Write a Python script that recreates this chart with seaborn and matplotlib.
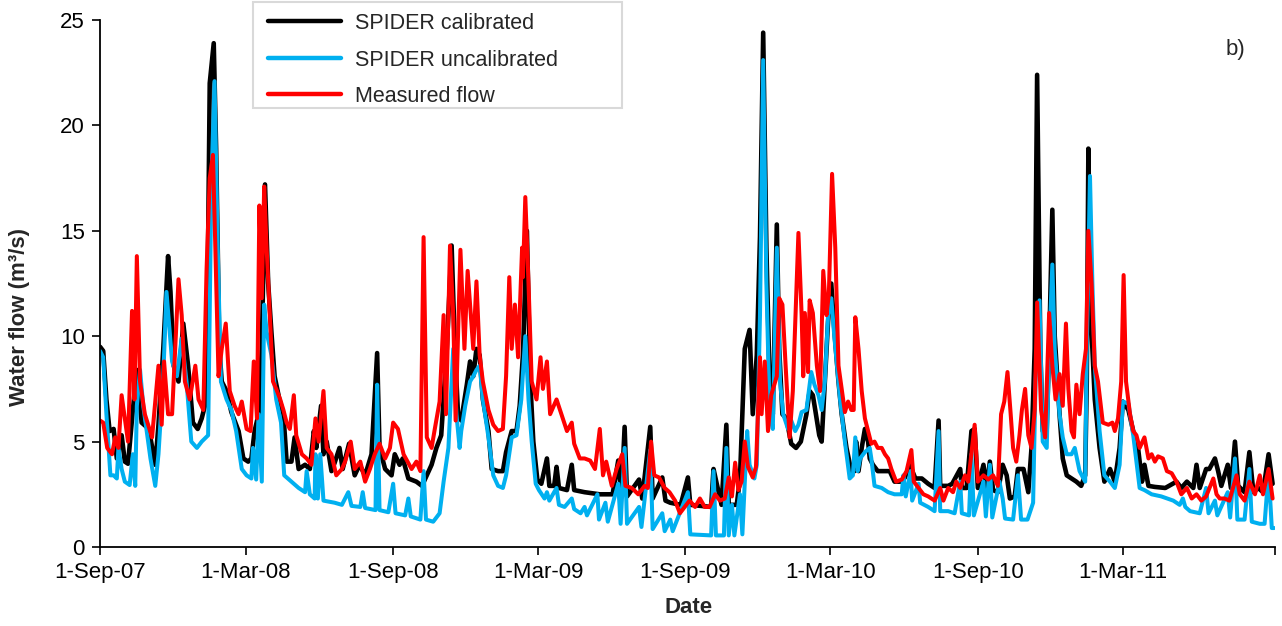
import numpy as np
import pandas as pd
import matplotlib
matplotlib.use("Agg")
import matplotlib.pyplot as plt
from matplotlib.lines import Line2D
from matplotlib.patches import Rectangle
import seaborn as sns

# ---------------- data (day offset from start_date, flow m3/s) ----------------
start_date = "2007-09-01"

calibrated = [
    (0, 9.5), (4, 9.3), (8, 7.0), (12, 5.5), (17, 5.6), (21, 4.2), (27, 5.3), (31, 4.05), (35, 3.95),
    (41, 6.5), (46, 8.4), (52, 5.9), (61, 5.6), (69, 3.9), (73, 5.8), (79, 9.4), (85, 13.8), (88, 12.1),
    (92, 8.6), (98, 7.85), (104, 10.6), (110, 8.6), (116, 5.9), (122, 5.6), (127, 6.1), (133, 7.0),
    (137, 22.0), (142, 23.9), (145, 18.9), (149, 9.4), (152, 7.85), (158, 7.4), (164, 6.4), (173, 5.5),
    (179, 4.2), (185, 4.05), (189, 4.2), (193, 5.5), (198, 6.3), (202, 9.4), (206, 17.2), (210, 12.5),
    (214, 10.2), (218, 8.1), (224, 7.0), (229, 6.3), (233, 4.05), (239, 4.05), (243, 5.2), (248, 3.7),
    (256, 3.9), (262, 3.7), (267, 5.5), (270, 4.7), (276, 6.7), (279, 4.4), (283, 5.0), (289, 3.6),
    (293, 4.0), (299, 4.7), (303, 3.7), (311, 4.9), (318, 3.4), (324, 3.9), (331, 3.4), (339, 4.4),
    (346, 9.2), (349, 4.7), (356, 3.7), (364, 3.4), (368, 4.4), (374, 3.9), (378, 4.2), (385, 3.25),
    (395, 3.1), (402, 2.9), (408, 3.4), (414, 3.9), (420, 4.7), (426, 5.3), (433, 9.4), (439, 14.3),
    (443, 9.5), (447, 6.3), (451, 6.0), (458, 7.7), (462, 8.8), (466, 8.1), (470, 9.4), (474, 9.1),
    (478, 7.0), (485, 5.5), (489, 3.7), (497, 3.6), (503, 3.6), (507, 4.5), (514, 5.5), (520, 5.5),
    (524, 6.7), (528, 9.1), (533, 15.0), (537, 8.0), (541, 5.0), (546, 3.2), (551, 3.0), (558, 4.2),
    (561, 2.9), (567, 2.9), (570, 3.8), (573, 2.8), (583, 2.7), (589, 3.9), (592, 2.7), (605, 2.6),
    (624, 2.5), (640, 2.5), (647, 4.1), (651, 2.4), (655, 5.7), (658, 2.4), (673, 3.2), (677, 2.3),
    (687, 5.7), (690, 2.3), (702, 3.3), (706, 2.2), (712, 2.1), (725, 2.0), (734, 3.3), (737, 2.0),
    (763, 1.9), (766, 3.7), (770, 3.0), (776, 2.0), (782, 5.8), (785, 2.0), (795, 2.0), (799, 3.25),
    (805, 9.4), (811, 10.3), (815, 6.3), (820, 9.1), (824, 14.7), (828, 24.4), (832, 14.2), (836, 7.85),
    (840, 6.3), (845, 15.3), (848, 9.4), (852, 6.3), (857, 6.1), (863, 4.9), (869, 4.7), (875, 5.0),
    (882, 6.3), (886, 7.4), (890, 7.2), (893, 6.5), (898, 5.3), (901, 5.0), (905, 7.85), (909, 10.7),
    (913, 12.5), (917, 10.2), (922, 7.85), (926, 6.3), (932, 4.7), (938, 3.6), (942, 3.6), (944, 5.0),
    (947, 3.6), (951, 4.7), (955, 5.6), (959, 5.0), (961, 4.2), (965, 3.9), (971, 3.6), (980, 3.6),
    (986, 3.6), (992, 3.1), (1000, 3.1), (1005, 3.3), (1011, 3.9), (1018, 3.25), (1026, 3.25),
    (1034, 3.0), (1042, 2.8), (1047, 6.0), (1049, 2.9), (1059, 2.9), (1064, 3.0), (1074, 3.7),
    (1076, 2.8), (1082, 2.8), (1088, 5.5), (1092, 5.6), (1096, 2.8), (1103, 3.9), (1107, 2.8),
    (1111, 4.05), (1115, 2.7), (1121, 2.6), (1127, 3.9), (1132, 3.4), (1136, 2.3), (1142, 2.4),
    (1146, 3.7), (1153, 3.7), (1159, 2.6), (1163, 4.7), (1167, 9.4), (1170, 22.4), (1174, 9.4),
    (1177, 5.5), (1182, 5.6), (1185, 9.4), (1189, 16.0), (1192, 10.0), (1198, 6.3), (1202, 4.2),
    (1207, 3.4), (1213, 3.25), (1219, 3.1), (1225, 2.9), (1230, 3.4), (1232, 7.85), (1234, 18.9),
    (1237, 11.0), (1242, 7.0), (1248, 4.7), (1254, 3.1), (1261, 3.7), (1267, 3.1), (1273, 4.7),
    (1277, 6.9), (1284, 6.5), (1290, 5.5), (1296, 4.7), (1301, 3.1), (1304, 3.9), (1309, 2.9),
    (1317, 2.85), (1330, 2.8), (1344, 3.1), (1350, 2.8), (1357, 3.1), (1365, 2.8), (1369, 3.9),
    (1373, 2.8), (1381, 3.7), (1385, 3.7), (1392, 4.2), (1396, 3.6), (1400, 2.9), (1408, 3.9),
    (1412, 2.8), (1417, 5.0), (1421, 2.9), (1429, 2.6), (1435, 4.5), (1440, 2.6), (1446, 2.8),
    (1452, 2.6), (1459, 4.4), (1464, 3.0),
]

uncalibrated = [
    (0, 9.3), (4, 9.0), (8, 6.3), (13, 3.4), (17, 3.4), (21, 3.25), (23, 4.7), (27, 3.7), (31, 3.1),
    (37, 2.94), (41, 4.4), (44, 2.9), (46, 6.7), (50, 8.4), (54, 6.7), (63, 4.2), (69, 2.9), (73, 4.4),
    (79, 8.1), (83, 12.1), (90, 8.8), (96, 8.1), (102, 9.9), (108, 7.85), (114, 5.0), (121, 4.7),
    (127, 5.0), (135, 5.3), (139, 17.2), (143, 22.1), (147, 14.2), (151, 7.85), (158, 7.0), (164, 6.5),
    (170, 5.5), (177, 3.7), (183, 3.4), (189, 3.25), (191, 4.7), (195, 3.2), (198, 6.3), (202, 3.1),
    (205, 11.5), (208, 10.2), (214, 9.1), (220, 7.0), (226, 5.9), (230, 3.4), (239, 3.1), (248, 2.8),
    (256, 2.6), (258, 3.6), (262, 2.5), (268, 2.3), (269, 4.4), (272, 2.3), (275, 4.4), (279, 2.2),
    (293, 2.1), (302, 2.0), (310, 2.6), (314, 1.95), (325, 1.9), (328, 2.6), (331, 1.85), (344, 1.75),
    (346, 7.7), (349, 1.75), (360, 1.65), (366, 3.0), (369, 1.6), (381, 1.5), (385, 2.3), (388, 1.45),
    (400, 1.3), (404, 3.6), (407, 1.3), (416, 1.2), (424, 1.6), (429, 3.1), (435, 4.7), (441, 9.4),
    (445, 6.3), (449, 4.7), (451, 5.5), (456, 6.7), (462, 7.85), (466, 8.1), (470, 8.4), (474, 8.6),
    (478, 7.0), (485, 5.2), (491, 3.4), (497, 2.9), (503, 2.8), (507, 3.4), (514, 5.2), (520, 5.3),
    (526, 7.0), (531, 10.0), (535, 7.0), (539, 5.0), (544, 3.0), (548, 2.7), (555, 2.3), (558, 2.6),
    (561, 2.2), (570, 2.8), (573, 2.0), (580, 1.9), (589, 2.3), (592, 1.8), (600, 1.6), (605, 1.9),
    (608, 1.5), (621, 2.5), (623, 1.3), (631, 2.1), (634, 1.2), (647, 3.0), (650, 1.1), (655, 4.7),
    (658, 1.1), (673, 1.9), (676, 0.95), (687, 4.6), (690, 0.85), (702, 1.6), (705, 0.75), (712, 1.3),
    (715, 0.75), (734, 2.6), (737, 0.6), (763, 0.55), (766, 3.6), (769, 0.55), (779, 0.55), (782, 4.7),
    (785, 0.55), (789, 2.0), (792, 0.55), (799, 2.5), (802, 0.6), (806, 3.9), (808, 5.5), (811, 3.9),
    (817, 3.25), (820, 3.9), (824, 11.0), (828, 23.1), (832, 12.5), (836, 6.5), (840, 5.6), (845, 14.2),
    (849, 7.85), (853, 6.3), (859, 5.6), (863, 6.0), (868, 5.5), (872, 5.8), (876, 6.4), (882, 6.5),
    (888, 8.3), (892, 7.7), (897, 7.2), (901, 6.5), (905, 7.85), (909, 11.0), (913, 11.8), (917, 9.9),
    (924, 7.0), (930, 5.0), (936, 3.25), (940, 3.4), (943, 5.2), (946, 3.6), (949, 4.2), (955, 4.5),
    (961, 4.7), (963, 4.2), (967, 2.9), (976, 2.8), (984, 2.6), (992, 2.5), (1001, 2.5), (1003, 3.4),
    (1006, 2.4), (1012, 3.6), (1014, 2.2), (1022, 3.0), (1024, 2.1), (1034, 1.9), (1042, 1.7),
    (1047, 5.5), (1049, 1.7), (1059, 1.7), (1067, 1.6), (1074, 3.1), (1076, 1.6), (1085, 1.5),
    (1088, 4.4), (1091, 1.5), (1103, 3.1), (1106, 1.45), (1111, 3.9), (1114, 1.4), (1123, 3.1),
    (1127, 2.3), (1130, 1.35), (1140, 1.3), (1146, 3.4), (1150, 1.3), (1158, 1.3), (1165, 2.1),
    (1168, 7.85), (1173, 11.7), (1177, 5.0), (1182, 4.7), (1185, 9.4), (1189, 13.4), (1192, 9.4),
    (1198, 6.3), (1202, 5.2), (1207, 4.4), (1213, 4.4), (1217, 4.7), (1223, 3.6), (1230, 3.1),
    (1232, 9.4), (1236, 17.6), (1239, 12.5), (1242, 8.6), (1248, 5.5), (1254, 3.4), (1261, 3.1),
    (1267, 2.8), (1273, 3.9), (1277, 6.9), (1284, 6.8), (1290, 5.3), (1298, 2.8), (1304, 2.7),
    (1313, 2.5), (1325, 2.4), (1340, 2.2), (1348, 2.0), (1352, 2.3), (1355, 1.9), (1361, 1.7),
    (1373, 1.6), (1381, 2.8), (1384, 1.6), (1392, 2.2), (1395, 1.5), (1408, 2.6), (1411, 1.4),
    (1417, 4.2), (1420, 1.3), (1429, 1.3), (1435, 3.7), (1438, 1.2), (1448, 1.1), (1454, 1.1),
    (1459, 3.6), (1463, 0.9), (1466, 0.9),
]

measured = [
    (0, 6.0), (4, 5.9), (9, 4.7), (15, 4.4), (19, 5.2), (23, 4.7), (27, 7.2), (31, 6.1), (35, 5.0),
    (40, 11.2), (43, 7.0), (46, 13.8), (50, 7.85), (56, 6.3), (65, 5.2), (73, 8.6), (77, 5.8), (80, 8.8),
    (85, 6.3), (90, 6.3), (98, 12.7), (102, 11.0), (106, 7.85), (112, 7.0), (119, 8.6), (123, 7.0),
    (129, 6.5), (133, 13.1), (137, 17.5), (141, 18.6), (144, 14.2), (148, 8.1), (152, 9.4), (157, 10.6),
    (162, 7.4), (168, 6.7), (173, 6.3), (177, 6.9), (183, 5.6), (188, 5.5), (192, 8.8), (196, 6.1),
    (199, 16.2), (202, 11.8), (205, 17.1), (208, 14.2), (212, 11.0), (216, 7.85), (220, 7.5), (225, 7.0),
    (229, 6.5), (233, 5.9), (237, 5.6), (242, 7.2), (245, 5.3), (252, 4.4), (258, 4.2), (264, 3.9),
    (269, 6.1), (273, 5.0), (279, 7.4), (283, 4.7), (289, 4.4), (295, 3.4), (302, 3.7), (306, 4.05),
    (313, 5.0), (318, 3.7), (325, 4.05), (331, 3.1), (337, 3.7), (343, 4.4), (349, 4.9), (356, 4.2),
    (362, 4.7), (366, 5.9), (372, 5.6), (379, 4.4), (389, 3.7), (395, 4.05), (400, 3.6), (404, 14.7),
    (408, 5.2), (414, 4.7), (418, 5.6), (424, 6.9), (429, 11.0), (432, 6.3), (437, 14.3), (441, 11.0),
    (444, 6.0), (450, 14.1), (455, 9.4), (459, 13.1), (462, 11.5), (466, 9.4), (470, 12.6), (474, 9.1),
    (478, 7.85), (485, 6.5), (491, 5.8), (497, 5.5), (503, 5.6), (507, 8.1), (511, 12.8), (514, 9.4),
    (518, 11.5), (522, 9.0), (527, 14.2), (528, 12.8), (531, 16.6), (535, 12.5), (539, 7.85), (545, 7.0),
    (550, 9.0), (553, 7.5), (558, 8.8), (562, 6.3), (570, 7.0), (576, 6.3), (583, 5.5), (589, 5.9),
    (592, 4.9), (599, 4.2), (605, 4.2), (612, 4.1), (618, 3.7), (624, 5.6), (628, 3.4), (632, 4.05),
    (639, 2.9), (645, 3.7), (652, 4.4), (656, 2.9), (664, 2.8), (672, 2.5), (680, 2.9), (684, 2.8),
    (688, 5.0), (692, 3.4), (698, 3.3), (705, 2.8), (711, 2.6), (718, 2.2), (724, 1.6), (730, 1.9),
    (736, 2.2), (743, 1.9), (749, 2.3), (755, 1.9), (761, 1.9), (768, 2.5), (774, 2.2), (780, 2.3),
    (785, 3.3), (789, 2.4), (793, 4.0), (797, 2.7), (801, 3.1), (805, 5.0), (809, 3.8), (815, 3.3),
    (819, 3.8), (824, 9.0), (826, 6.3), (830, 8.8), (834, 5.5), (838, 7.2), (845, 8.1), (848, 11.8),
    (852, 11.5), (856, 8.6), (861, 5.2), (865, 7.4), (872, 14.9), (876, 11.0), (878, 8.1), (880, 11.1),
    (884, 8.3), (886, 11.7), (890, 11.1), (895, 8.6), (899, 7.4), (903, 13.1), (907, 11.0), (910, 12.0),
    (914, 17.7), (918, 14.2), (922, 8.6), (926, 7.5), (930, 6.4), (934, 6.9), (938, 6.5), (941, 6.5),
    (943, 10.9), (947, 9.4), (951, 7.4), (955, 6.1), (959, 5.5), (963, 4.9), (967, 5.0), (971, 4.7),
    (976, 4.7), (980, 4.4), (984, 4.2), (988, 3.7), (994, 3.1), (1001, 3.2), (1007, 3.6), (1013, 4.6),
    (1016, 3.1), (1022, 2.8), (1028, 2.5), (1034, 2.4), (1042, 2.2), (1049, 2.8), (1053, 2.2),
    (1059, 2.8), (1065, 2.6), (1069, 3.1), (1074, 2.8), (1080, 3.4), (1084, 3.1), (1092, 5.8),
    (1096, 3.1), (1103, 3.4), (1109, 3.2), (1115, 3.4), (1121, 2.9), (1125, 6.3), (1129, 6.9),
    (1133, 8.3), (1137, 6.3), (1140, 4.7), (1144, 4.05), (1148, 5.3), (1151, 6.5), (1155, 7.5),
    (1159, 5.3), (1163, 4.7), (1167, 6.5), (1170, 11.6), (1175, 6.5), (1180, 5.2), (1185, 11.1),
    (1189, 8.6), (1193, 7.0), (1198, 8.2), (1202, 6.7), (1206, 10.6), (1209, 7.5), (1213, 5.5),
    (1216, 5.2), (1219, 7.7), (1223, 6.3), (1227, 8.2), (1231, 9.4), (1234, 15.0), (1238, 12.5),
    (1242, 8.6), (1246, 7.85), (1252, 5.9), (1259, 5.8), (1264, 5.9), (1267, 5.5), (1271, 6.1),
    (1275, 7.85), (1278, 12.9), (1281, 7.85), (1286, 6.3), (1290, 5.5), (1294, 5.3), (1298, 4.7),
    (1304, 5.2), (1309, 4.2), (1313, 4.4), (1317, 4.05), (1321, 4.3), (1327, 4.2), (1332, 3.6),
    (1338, 3.5), (1344, 3.1), (1350, 2.5), (1357, 2.8), (1363, 2.3), (1369, 2.5), (1375, 2.2),
    (1381, 2.4), (1390, 3.25), (1394, 2.5), (1398, 2.3), (1404, 2.3), (1410, 2.2), (1419, 3.4),
    (1423, 2.5), (1429, 2.2), (1435, 3.1), (1442, 2.5), (1448, 3.4), (1452, 2.5), (1459, 3.7),
    (1464, 2.3),
]

series_names = ["SPIDER calibrated", "SPIDER uncalibrated", "Measured flow"]
series_colors = ["#000000", "#00B0F0", "#FF0000"]
tick_dates = ["2007-09-01", "2008-03-01", "2008-09-01", "2009-03-01", "2009-09-01",
              "2010-03-01", "2010-09-01", "2011-03-01", "2011-09-07"]
tick_labels = ["1-Sep-07", "1-Mar-08", "1-Sep-08", "1-Mar-09", "1-Sep-09",
               "1-Mar-10", "1-Sep-10", "1-Mar-11", ""]
y_ticks = [0, 5, 10, 15, 20, 25]
x_end = "2011-09-07"

# ---------------- build long table ----------------
frames = []
for name, pts in zip(series_names, [calibrated, uncalibrated, measured]):
    arr = np.array(pts, dtype=float)
    frames.append(pd.DataFrame({
        "Date": pd.Timestamp(start_date) + pd.to_timedelta(arr[:, 0], unit="D"),
        "Flow": arr[:, 1],
        "Series": name,
    }))
df = pd.concat(frames, ignore_index=True)

sns.set_theme(style="ticks")
plt.rcParams["font.family"] = ["Liberation Sans", "DejaVu Sans"]

W, H = 1282, 626
fig = plt.figure(figsize=(W / 100, H / 100), dpi=100)
ax = fig.add_axes([100 / W, 1 - 547 / H, 1175 / W, 527 / H])

widths = [3.3, 2.9, 2.9]
for name, col, lw in zip(series_names, series_colors, widths):
    sns.lineplot(data=df[df["Series"] == name], x="Date", y="Flow", color=col,
                 linewidth=lw, estimator=None, sort=False, ax=ax, legend=False)
for ln in ax.lines:
    ln.set_solid_joinstyle("round")
    ln.set_solid_capstyle("round")

ax.set_xlim(pd.Timestamp(start_date), pd.Timestamp(x_end))
ax.set_ylim(0, 25)
ax.set_yticks(y_ticks)
ax.set_xticks(pd.to_datetime(tick_dates))
ax.set_xticklabels(tick_labels)
ax.tick_params(axis="both", direction="out", length=6, width=1.2, colors="black",
               labelsize=16, pad=5)
for s in ["top", "right"]:
    ax.spines[s].set_visible(False)
for s in ["left", "bottom"]:
    ax.spines[s].set_linewidth(1.3)
    ax.spines[s].set_color("black")

ax.set_xlabel("Date", fontsize=16, fontweight="bold")
ax.set_ylabel("Water flow (m³/s)", fontsize=16, fontweight="bold")
ax.xaxis.set_label_coords((689 - 100) / 1175, (547 - 597) / 527)
ax.yaxis.set_label_coords((30 - 100) / 1175, (547 - 317) / 527)

# legend: Excel-style frame drawn as a figure rectangle, entries via fig.legend
frame = Rectangle((253 / W, 1 - 108 / H), (622 - 253) / W, (108 - 2) / H,
                  transform=fig.transFigure, facecolor="white", edgecolor="#d9d9d9",
                  linewidth=1.5, zorder=5)
fig.add_artist(frame)
handles = [Line2D([], [], color=c, lw=3.2) for c in series_colors]
leg = fig.legend(handles, series_names, loc="upper left",
                 bbox_to_anchor=(268 / W, 1 - 13 / H), fontsize=15.5,
                 frameon=False, handlelength=3.4, handletextpad=0.65,
                 labelspacing=0.72, borderpad=0, borderaxespad=0)
leg.set_zorder(6)

fig.text(1235 / W, 1 - 50 / H, "b)", fontsize=16, ha="center", va="center")

fig.savefig("out.png", dpi=100)
